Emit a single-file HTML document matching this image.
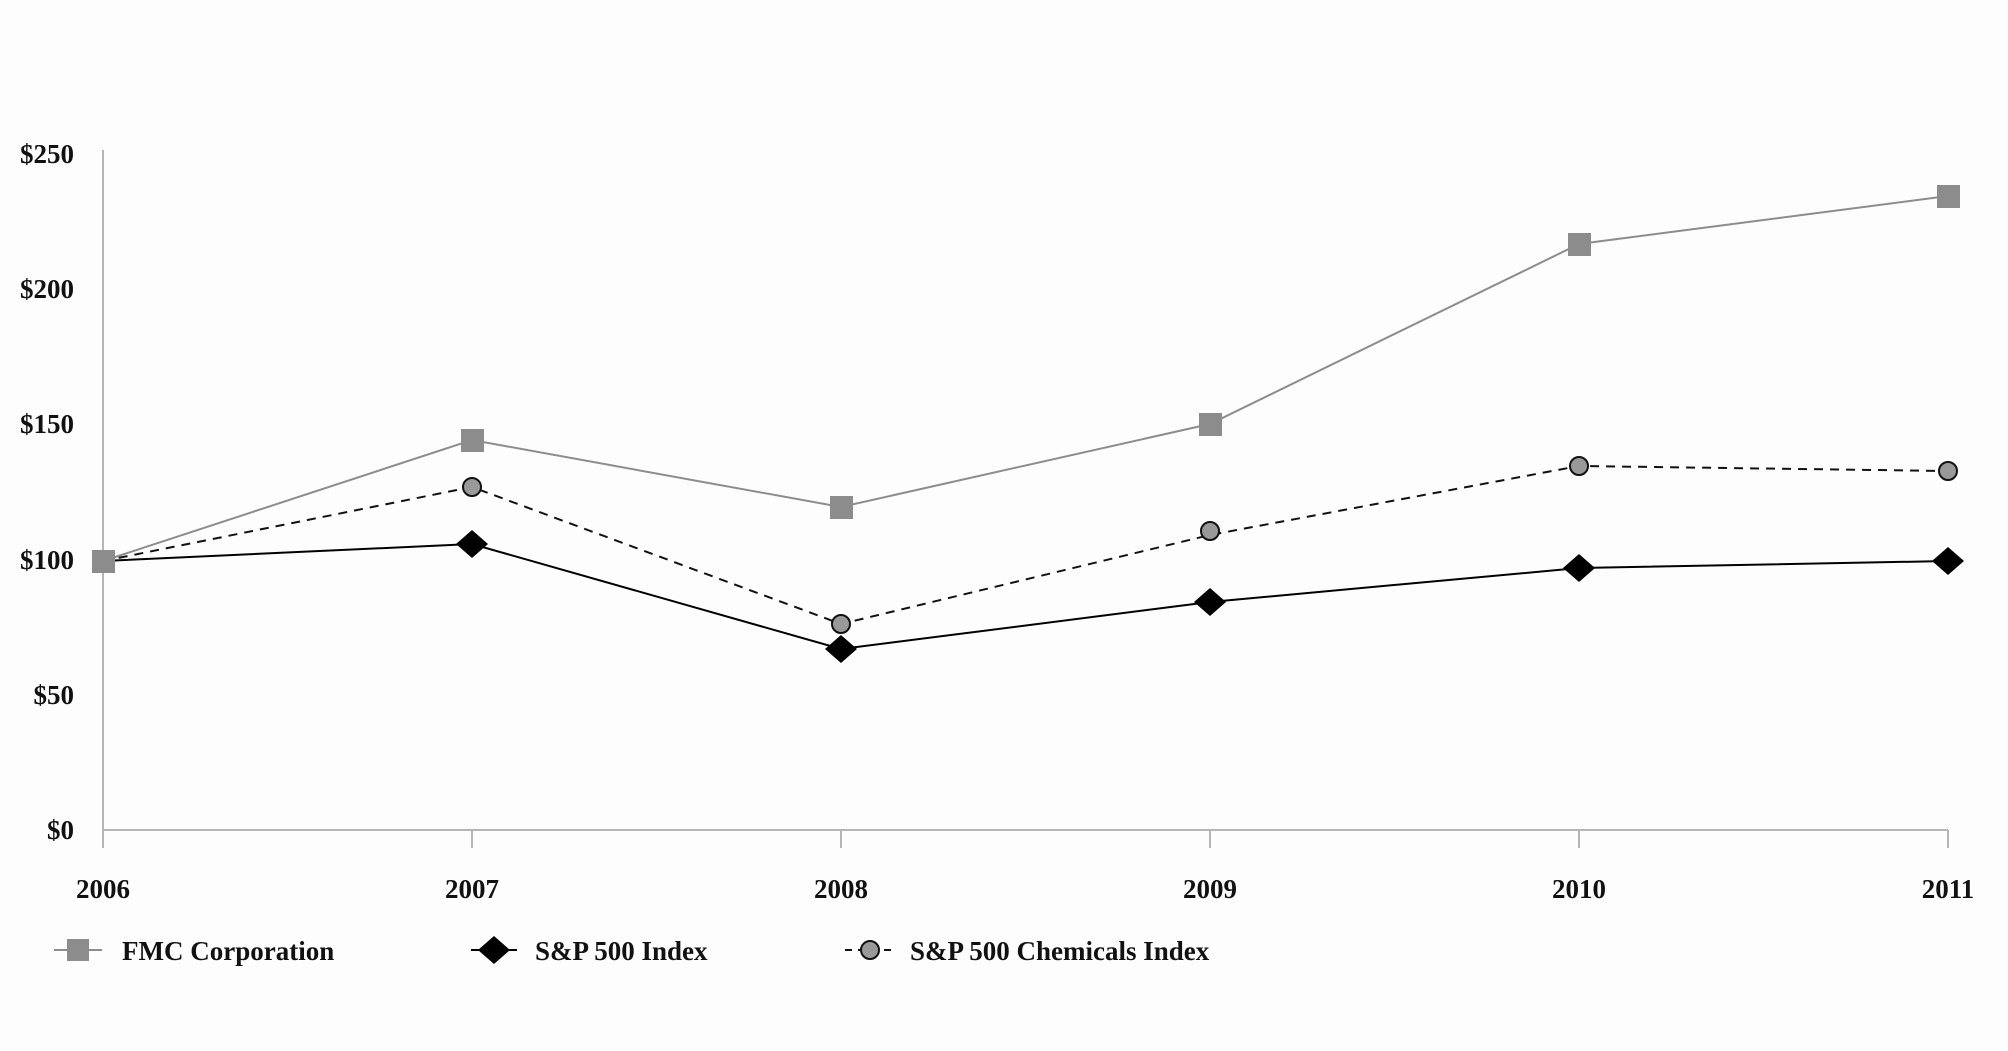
<!DOCTYPE html>
<html><head><meta charset="utf-8"><style>
html,body{margin:0;padding:0;background:#fdfdfd;}
svg{display:block;}
text{font-family:"Liberation Serif",serif;font-weight:bold;font-size:27px;fill:#111;}
</style></head><body>
<svg width="2008" height="1051" viewBox="0 0 2008 1051">
<rect width="2008" height="1051" fill="#fdfdfd"/>
<line x1="103" y1="150" x2="103" y2="848" stroke="#b5b5b5" stroke-width="2"/>
<line x1="103" y1="830" x2="1948" y2="830" stroke="#b5b5b5" stroke-width="2"/>
<g stroke="#b5b5b5" stroke-width="2">
<line x1="472" y1="830" x2="472" y2="848"/><line x1="841" y1="830" x2="841" y2="848"/>
<line x1="1210" y1="830" x2="1210" y2="848"/><line x1="1579" y1="830" x2="1579" y2="848"/>
<line x1="1948" y1="830" x2="1948" y2="848"/>
</g>
<g text-anchor="end">
<text x="74" y="163">$250</text><text x="74" y="298">$200</text><text x="74" y="433">$150</text>
<text x="74" y="569">$100</text><text x="74" y="704">$50</text><text x="74" y="839">$0</text>
</g>
<g text-anchor="middle">
<text x="103" y="898">2006</text><text x="472" y="898">2007</text><text x="841" y="898">2008</text>
<text x="1210" y="898">2009</text><text x="1579" y="898">2010</text><text x="1948" y="898">2011</text>
</g>
<polyline fill="none" stroke="#8c8c8c" stroke-width="2" points="103,561 472,440 841,507 1210,424 1579,244 1948,196"/>
<g fill="#8c8c8c">
<rect x="461" y="429" width="23" height="23"/>
<rect x="830" y="496" width="23" height="23"/><rect x="1199" y="413" width="23" height="23"/>
<rect x="1568" y="233" width="23" height="23"/><rect x="1937" y="185" width="23" height="23"/>
</g>
<polyline fill="none" stroke="#111" stroke-width="2" stroke-dasharray="9,7" points="103,561 472,487 841,624 1210,535 1579,466 1948,471"/>
<g fill="#999" stroke="#111" stroke-width="2">
<circle cx="472" cy="487" r="9"/><circle cx="841" cy="624" r="9"/><circle cx="1210" cy="531" r="9"/>
<circle cx="1579" cy="466" r="9"/><circle cx="1948" cy="471" r="9"/>
</g>
<polyline fill="none" stroke="#000" stroke-width="2" points="103,561 472,544 841,649 1210,602 1579,568 1948,561"/>
<g fill="#000">
<polygon points="472,530 488,544 472,558 456,544"/><polygon points="841,635 857,649 841,663 825,649"/>
<polygon points="1210,588 1226,602 1210,616 1194,602"/><polygon points="1579,554 1595,568 1579,582 1563,568"/>
<polygon points="1948,547 1964,561 1948,575 1932,561"/>
</g>
<rect x="92" y="550" width="23" height="23" fill="#8c8c8c"/>
<line x1="54" y1="950" x2="102" y2="950" stroke="#8c8c8c" stroke-width="2"/>
<rect x="67" y="939" width="22" height="22" fill="#8c8c8c"/>
<text x="122" y="960">FMC Corporation</text>
<line x1="471" y1="950" x2="517" y2="950" stroke="#000" stroke-width="2"/>
<polygon points="494,936 510,950 494,964 478,950" fill="#000"/>
<text x="535" y="960">S&amp;P 500 Index</text>
<line x1="845" y1="950" x2="893" y2="950" stroke="#111" stroke-width="2" stroke-dasharray="7,6"/>
<circle cx="870" cy="950" r="9" fill="#999" stroke="#111" stroke-width="2"/>
<text x="910" y="960">S&amp;P 500 Chemicals Index</text>
</svg>
</body></html>
